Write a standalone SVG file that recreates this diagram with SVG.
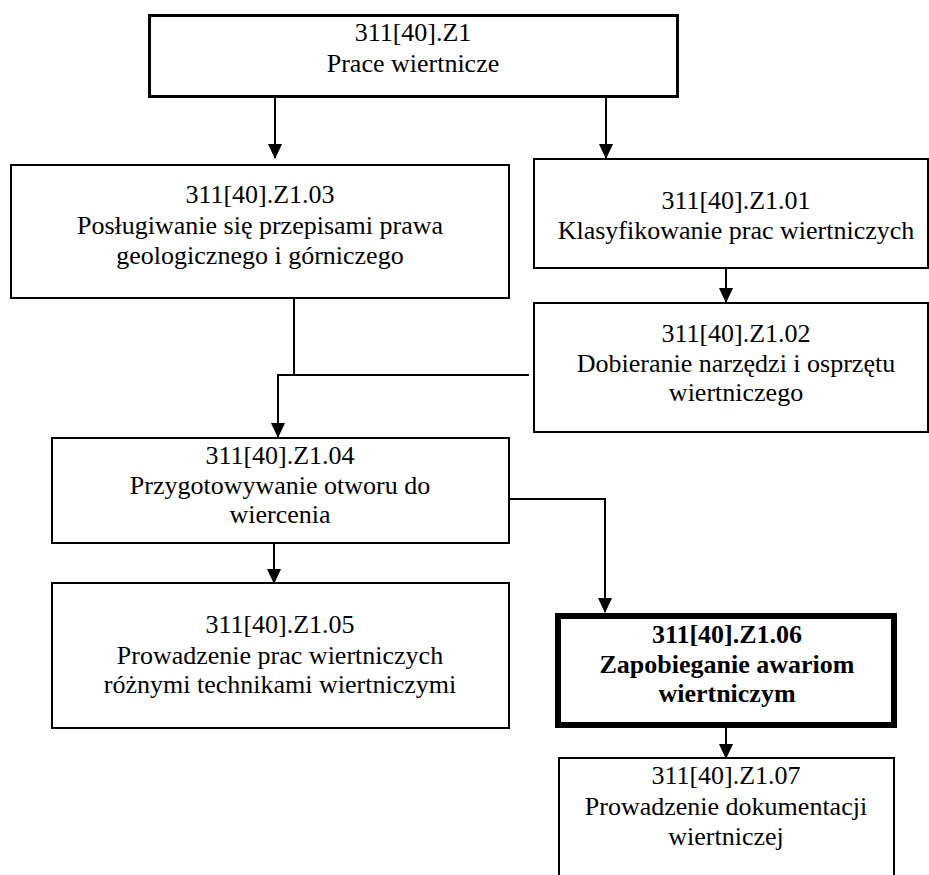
<svg xmlns="http://www.w3.org/2000/svg" width="929" height="875" viewBox="0 0 929 875">
<defs>
<marker id="ah" markerUnits="userSpaceOnUse" markerWidth="15" markerHeight="14" viewBox="0 0 15 14" refX="14" refY="7" orient="auto">
<path d="M0,0 L15,7 L0,14 Z" fill="#000"/>
</marker>
</defs>
<rect width="929" height="875" fill="#fff"/>
<g id="connectors" fill="none" stroke="#000" stroke-width="2">
<line x1="275" y1="97" x2="275" y2="158" marker-end="url(#ah)"/>
<line x1="606" y1="97" x2="606" y2="158" marker-end="url(#ah)"/>
<line x1="726" y1="268" x2="726" y2="302" marker-end="url(#ah)"/>
<polyline points="294,298 294,375"/>
<line x1="277" y1="375" x2="529" y2="375"/>
<line x1="278" y1="375" x2="278" y2="437" marker-end="url(#ah)"/>
<polyline points="509,499 605,499 605,612" marker-end="url(#ah)"/>
<line x1="274" y1="543" x2="274" y2="583" marker-end="url(#ah)"/>
<line x1="726" y1="728" x2="726" y2="758" marker-end="url(#ah)"/>
</g>
<g id="n-z1">
<rect x="149.5" y="15.5" width="528" height="81" fill="#fff" stroke="#000" stroke-width="3"/>
<text font-family="Times New Roman, Liberation Serif, serif" font-size="26" text-anchor="middle" x="413" y="41">311[40].Z1</text>
<text font-family="Times New Roman, Liberation Serif, serif" font-size="26" text-anchor="middle" x="413" y="72">Prace wiertnicze</text>
</g>
<g id="n-z103">
<rect x="11" y="165" width="498" height="133" fill="#fff" stroke="#000" stroke-width="2"/>
<text font-family="Times New Roman, Liberation Serif, serif" font-size="26" text-anchor="middle" x="260" y="203">311[40].Z1.03</text>
<text font-family="Times New Roman, Liberation Serif, serif" font-size="26" text-anchor="middle" x="260" y="234">Posługiwanie się przepisami prawa</text>
<text font-family="Times New Roman, Liberation Serif, serif" font-size="26" text-anchor="middle" x="260" y="264">geologicznego i górniczego</text>
</g>
<g id="n-z101">
<rect x="534" y="159" width="394" height="109" fill="#fff" stroke="#000" stroke-width="2"/>
<text font-family="Times New Roman, Liberation Serif, serif" font-size="26" text-anchor="middle" x="736" y="209">311[40].Z1.01</text>
<text font-family="Times New Roman, Liberation Serif, serif" font-size="26" text-anchor="middle" x="736" y="239">Klasyfikowanie prac wiertniczych</text>
</g>
<g id="n-z102">
<rect x="534" y="303" width="394" height="129" fill="#fff" stroke="#000" stroke-width="2"/>
<text font-family="Times New Roman, Liberation Serif, serif" font-size="26" text-anchor="middle" x="736" y="342">311[40].Z1.02</text>
<text font-family="Times New Roman, Liberation Serif, serif" font-size="26" text-anchor="middle" x="736" y="372">Dobieranie narzędzi i osprzętu</text>
<text font-family="Times New Roman, Liberation Serif, serif" font-size="26" text-anchor="middle" x="736" y="401">wiertniczego</text>
</g>
<g id="n-z104">
<rect x="52" y="438" width="457" height="105" fill="#fff" stroke="#000" stroke-width="2"/>
<text font-family="Times New Roman, Liberation Serif, serif" font-size="26" text-anchor="middle" x="280" y="464">311[40].Z1.04</text>
<text font-family="Times New Roman, Liberation Serif, serif" font-size="26" text-anchor="middle" x="280" y="494">Przygotowywanie otworu do</text>
<text font-family="Times New Roman, Liberation Serif, serif" font-size="26" text-anchor="middle" x="280" y="523">wiercenia</text>
</g>
<g id="n-z105">
<rect x="52" y="583" width="457" height="145" fill="#fff" stroke="#000" stroke-width="2"/>
<text font-family="Times New Roman, Liberation Serif, serif" font-size="26" text-anchor="middle" x="280" y="633">311[40].Z1.05</text>
<text font-family="Times New Roman, Liberation Serif, serif" font-size="26" text-anchor="middle" x="280" y="664">Prowadzenie prac wiertniczych</text>
<text font-family="Times New Roman, Liberation Serif, serif" font-size="26" text-anchor="middle" x="280" y="693">różnymi technikami wiertniczymi</text>
</g>
<g id="n-z106">
<rect x="558" y="616" width="336" height="109" fill="#fff" stroke="#000" stroke-width="6"/>
<text font-family="Times New Roman, Liberation Serif, serif" font-size="26" font-weight="bold" text-anchor="middle" x="727" y="643">311[40].Z1.06</text>
<text font-family="Times New Roman, Liberation Serif, serif" font-size="26" font-weight="bold" text-anchor="middle" x="727" y="673">Zapobieganie awariom</text>
<text font-family="Times New Roman, Liberation Serif, serif" font-size="26" font-weight="bold" text-anchor="middle" x="727" y="702">wiertniczym</text>
</g>
<g id="n-z107">
<rect x="559" y="758" width="335" height="140" fill="#fff" stroke="#000" stroke-width="2"/>
<text font-family="Times New Roman, Liberation Serif, serif" font-size="26" text-anchor="middle" x="726" y="784">311[40].Z1.07</text>
<text font-family="Times New Roman, Liberation Serif, serif" font-size="26" text-anchor="middle" x="726" y="815">Prowadzenie dokumentacji</text>
<text font-family="Times New Roman, Liberation Serif, serif" font-size="26" text-anchor="middle" x="726" y="845">wiertniczej</text>
</g>
</svg>
